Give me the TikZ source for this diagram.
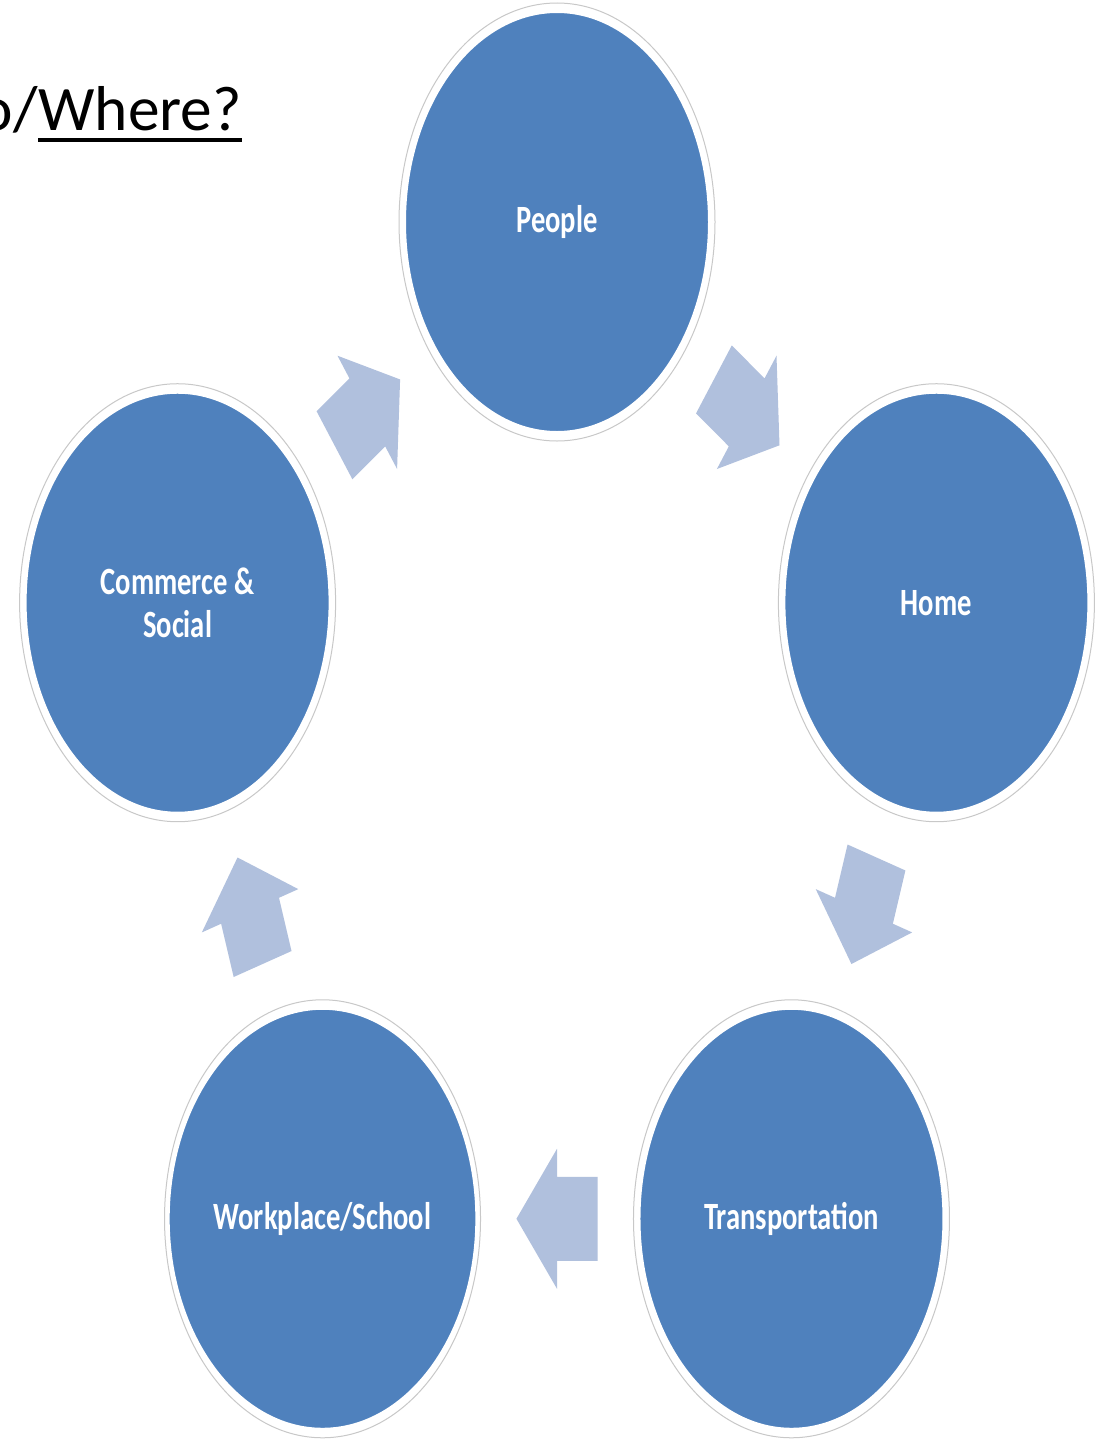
\documentclass[tikz,border=0pt]{standalone}
\usepackage{fontspec}
\setmainfont{Carlito}
\newfontfamily\stagefont[FakeStretch=0.74]{Carlito}
\usetikzlibrary{shapes.geometric,calc}
\definecolor{stageblue}{HTML}{4F81BD}
\definecolor{arrowblue}{HTML}{B0C0DD}
\definecolor{ringgray}{HTML}{C8C8C8}
\tikzset{
  stage/.style={ellipse, fill=stageblue, draw=white, line width=1pt,
    minimum width=152pt, minimum height=210pt, inner sep=0pt,
    text=white, align=center,
    font=\stagefont\bfseries\fontsize{19.3}{21.5}\selectfont},
  ring/.style={draw=ringgray, line width=0.5pt},
  blockarrow/.style={fill=arrowblue, draw=none},
  title/.style={inner sep=0pt, text=black, font=\fontsize{31.7}{38}\selectfont}
}
\begin{document}
\begin{tikzpicture}[x=0.5pt, y=-0.5pt]
\useasboundingbox (0,0) rectangle (1100,1440);
\clip (0,0) rectangle (1100,1440);
\fill[white] (0,0) rectangle (1100,1440);

% title
\node[title, anchor=base west] (where) at (38,130) {Where?};
\node[title, anchor=base east] (slash) at (where.base west) {o/};
\draw[line width=1.7pt] ([yshift=-5pt]where.base west) -- ([yshift=-5pt]where.base east);

% stages
\begin{scope}[shift={(557,773)}, xscale=0.724]
  \node[stage] (people) at (-90:551) {People};
  \node[stage] (home) at (-18:551) {Home};
  \node[stage] (transport) at (54:551) {Transportation};
  \node[stage] (work) at (126:551) {Workplace/School};
  \node[stage] (commerce) at (198:551) {Commerce \&\\Social};
\end{scope}
\foreach \n in {people,home,transport,work,commerce}
  \draw[ring] (\n.center) ellipse [x radius=79pt, y radius=109.5pt];

% block arrows
\foreach \a/\b/\d in {people/home/36, home/transport/108, transport/work/180,
                      work/commerce/252, commerce/people/324}{
  \begin{scope}[shift={($(\a)!0.5!(\b)$)}, xscale=0.724, rotate=-\d]
    \fill[blockarrow] (-56,-42) -- (0,-42) -- (0,-70) -- (56,0) -- (0,70)
      -- (0,42) -- (-56,42) -- cycle;
  \end{scope}
}
\end{tikzpicture}
\end{document}
